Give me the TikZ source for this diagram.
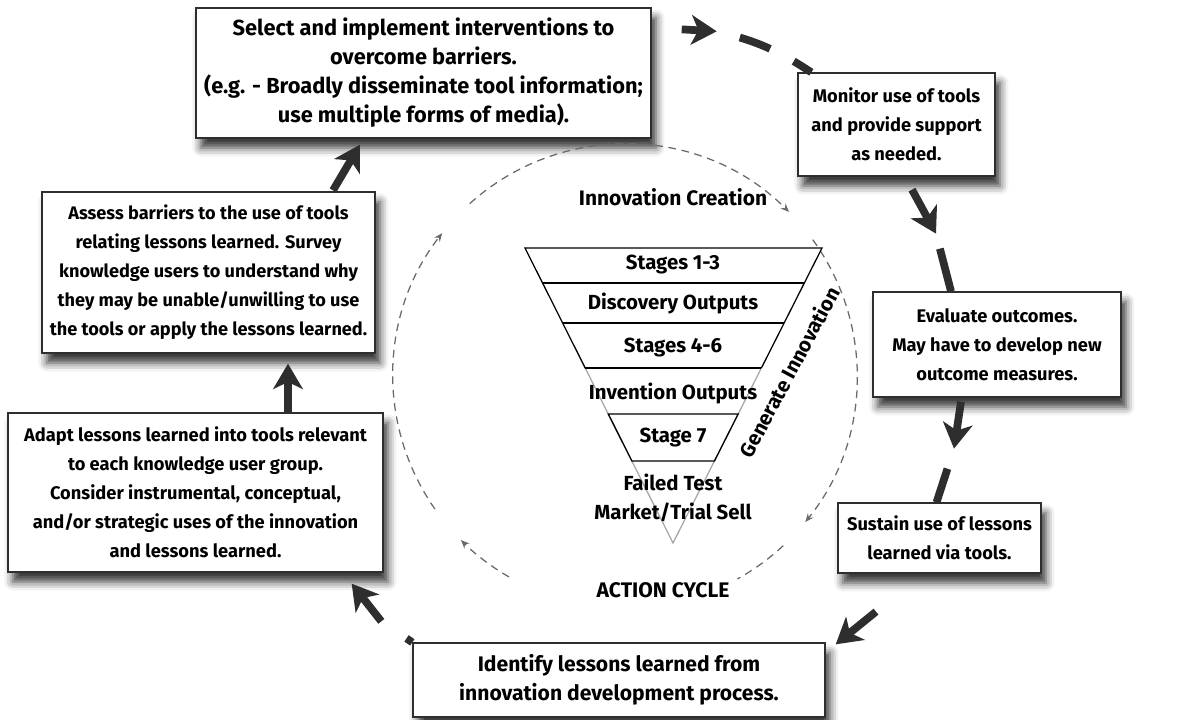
\documentclass[tikz,border=0pt]{standalone}
\usepackage{fontspec}
\setmainfont{Fira Sans}
\usepackage{tikz}
\usetikzlibrary{calc}
\usetikzlibrary{arrows.meta}
\usetikzlibrary{shadows.blur}
\definecolor{ink}{HTML}{2E2E2E}
\definecolor{cycgray}{HTML}{6A6A6A}
\newcommand{\bx}[1]{\bfseries\fontsize{#1}{20.6}\selectfont}
\tikzset{
  box/.style={draw=ink, line width=0.9pt, fill=white, align=center, inner sep=2pt, font=\bx{13},
    blur shadow={shadow xshift=3.5pt, shadow yshift=-7pt, shadow blur radius=6pt, shadow opacity=80}},
  big/.style={draw=ink, line width=5.5pt, -{Stealth[length=18pt,width=21pt,inset=5pt]}},
  bigdash/.style={draw=ink, line width=5.5pt},
  cyc/.style={draw=cycgray, line width=0.9pt, dash pattern=on 5.5pt off 4pt, -{Stealth[length=6pt,width=5pt]}},
  lbl/.style={font=\bx{14.5}, align=center, inner sep=0pt},
}

\begin{document}
\begin{tikzpicture}[x=0.025cm,y=-0.025cm]
    \useasboundingbox (0,0) rectangle (1203,719);
    % action cycle boxes
    \node[box, font=\bx{15.5}, minimum width=11.375cm, minimum height=3.25cm] (Sel) at (423.5,73)
      {Select and implement interventions to\\ overcome barriers.\\ (e.g. - Broadly disseminate tool information;\\ use multiple forms of media).};
    \node[box, minimum width=4.925cm, minimum height=2.575cm] (Mon) at (896.5,124.5)
      {Monitor use of tools\\ and provide support\\ as needed.};
    \node[box, minimum width=6.2cm, minimum height=2.625cm] (Eva) at (997,344.5)
      {Evaluate outcomes.\\ May have to develop new\\ outcome measures.};
    \node[box, minimum width=5.075cm, minimum height=1.75cm] (Sus) at (939.5,538)
      {Sustain use of lessons\\ learned via tools.};
    \node[box, font=\bx{15}, minimum width=10.3cm, minimum height=1.85cm] (Ide) at (619,680)
      {Identify lessons learned from\\ innovation development process.};
    \node[box, minimum width=9.375cm, minimum height=3.975cm] (Ada) at (195.5,492.5)
      {Adapt lessons learned into tools relevant\\ to each knowledge user group.\\ Consider instrumental, conceptual,\\ and/or strategic uses of the innovation\\ and lessons learned.};
    \node[box, font=\bx{12.9}, minimum width=8.325cm, minimum height=4.025cm] (Ass) at (208.5,272.5)
      {Assess barriers to the use of tools\\ relating lessons learned. Survey\\ knowledge users to understand why\\ they may be unable/unwilling to use\\ the tools or apply the lessons learned.};

    % thick arrows round the cycle
    \coordinate (A1) at ($(Sel.north east)+(65,24)$);
    \draw[big] ($(Sel.north east)+(30,22)$) -- (A1);
    \draw[bigdash, dash pattern=on 0pt off 17pt on 23pt off 19pt on 30pt] (A1) to[bend left=10] ($(Mon.north west)+(14,0)$);
    \coordinate (A2) at ($(Mon.south)+(39.5,57)$);
    \draw[big] ($(Mon.south)+(15.5,13)$) -- (A2);
    \draw[bigdash, dash pattern=on 0pt off 11pt on 40pt] (A2) -- ($(Eva.north)+(-46,0)$);
    \coordinate (A3) at ($(Eva.south)+(-43,51)$);
    \draw[big] ($(Eva.south)+(-36,4)$) -- (A3);
    \draw[bigdash, dash pattern=on 0pt off 15pt on 40pt] (A3) -- ($(Sus.north)+(-3,0)$);
    \draw[big] ($(Sus.south)+(-63.5,38)$) -- ($(Ide.north east)+(10,2)$);
    \coordinate (A5) at ($(Ide.north west)+(-31,-21)$);
    \draw[bigdash, dash pattern=on 5pt off 40pt] (Ide.north west) -- (A5);
    \draw[big] (A5) -- ($(Ada.south east)+(-32,11)$);
    \draw[big] ($(Ada.north)+(92.5,0)$) -- ($(Ass.south)+(79.5,10)$);
    \draw[big] ($(Ass.north)+(124.5,-1)$) -- ($(Sel.south)+(-63.5,6)$);

    % inner dashed cycle
    \coordinate (C) at (625,376);
    \draw[cyc] ($(C)+(-215:232)$) arc[start angle=-215, end angle=-142, radius=232];
    \draw[cyc] ($(C)+(-132:232)$) arc[start angle=-132, end angle=-45, radius=232];
    \draw[cyc] ($(C)+(-36:232)$) arc[start angle=-36, end angle=39, radius=232];
    \draw[cyc, -] ($(C)+(47:232)$) arc[start angle=47, end angle=61, radius=232];
    \draw[cyc] ($(C)+(-240:232)$) arc[start angle=-240, end angle=-225, radius=232];

    % funnel
    \coordinate (FL) at (525,248);
    \coordinate (FR) at (822,248);
    \coordinate (FA) at (673,543);
    \draw[gray!70, line width=0.9pt] ($(FL)!0.407!(FA)$) -- (FA) -- ($(FR)!0.407!(FA)$);
    \draw[line width=0.9pt] ($(FL)!0.407!(FA)$) -- (FL) -- (FR) -- ($(FR)!0.407!(FA)$);
    \foreach \t in {0.119,0.254,0.407}
      \draw[line width=0.9pt] ($(FL)!\t!(FA)$) -- ($(FR)!\t!(FA)$);
    \draw[line width=0.9pt] ($(FL)!0.563!(FA)$) -- ($(FR)!0.563!(FA)$) -- ($(FR)!0.722!(FA)$) -- ($(FL)!0.722!(FA)$) -- cycle;

    \node[lbl] (S13) at (673,265) {Stages 1-3};
    \node[lbl] (Dis) at (673,303) {Discovery Outputs};
    \node[lbl] (S46) at (673,348) {Stages 4-6};
    \node[lbl] (Inv) at (673,393) {Invention Outputs};
    \node[lbl] (S7) at (673,438) {Stage 7};
    \node[lbl] (Fail) at (673,497.5) {Failed Test\\ Market/Trial Sell};
    \node[lbl, rotate=62] (Gen) at (789,372) {Generate Innovation};
    \node[lbl, font=\bx{14.9}] (Cre) at (673,197) {Innovation Creation};
    \node[lbl, font=\bx{15}] (Act) at (663,590) {ACTION CYCLE};
  \end{tikzpicture}
\end{document}
